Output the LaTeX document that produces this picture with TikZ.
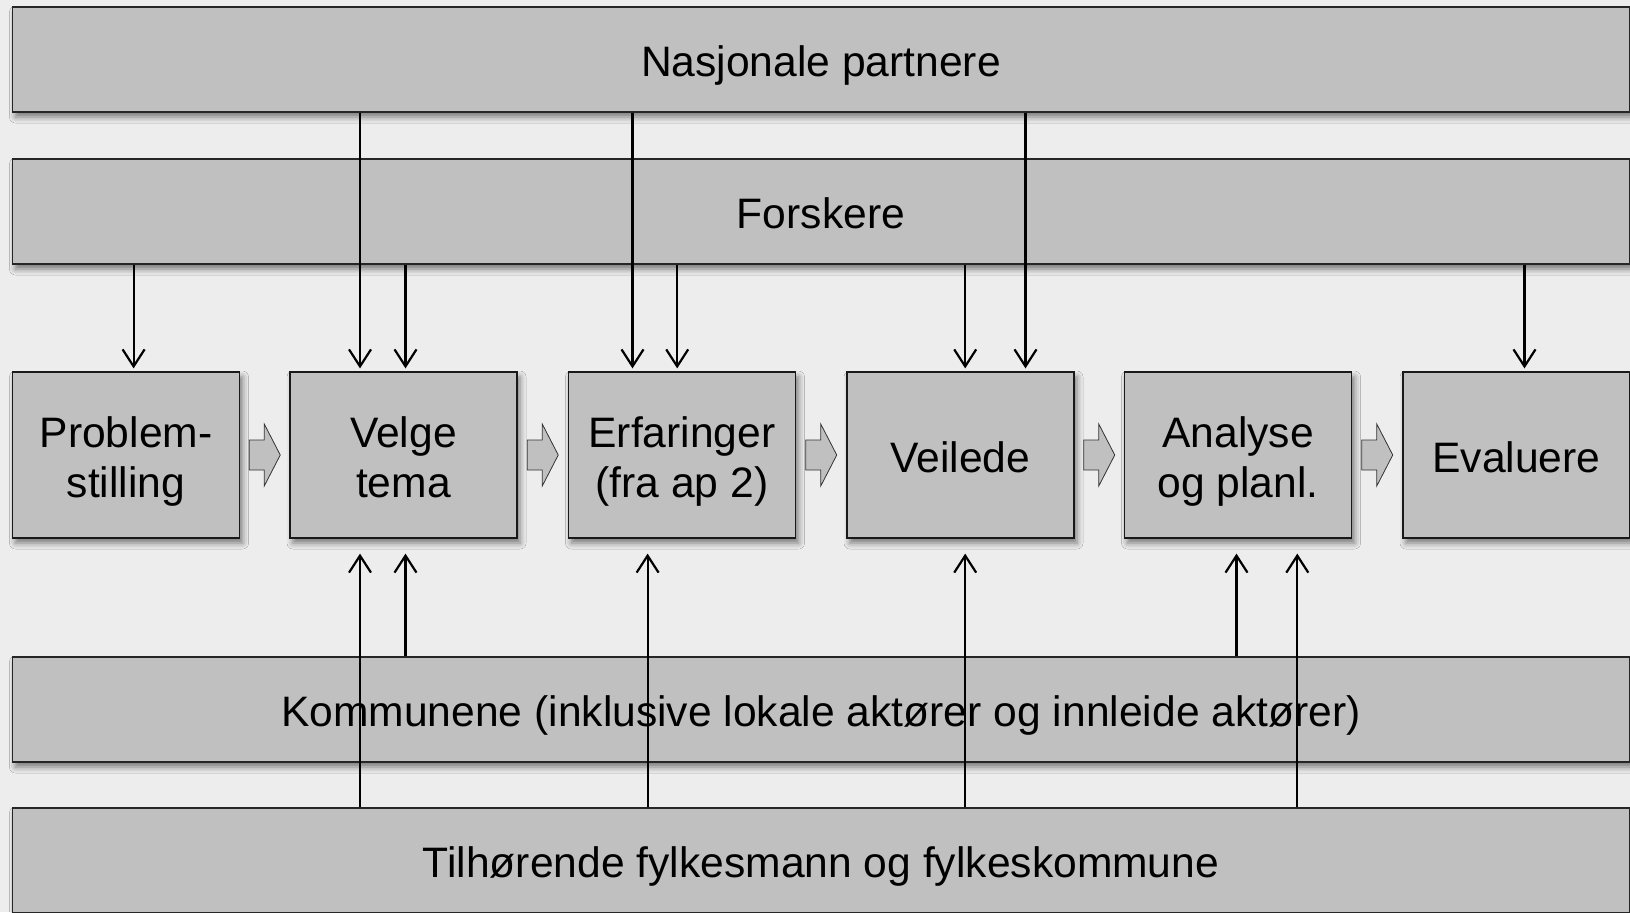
\documentclass[tikz,border=0pt]{standalone}
\usepackage{fontspec}
\setmainfont{Liberation Sans}
\usetikzlibrary{arrows.meta,shadows.blur,calc}
\definecolor{bgcol}{HTML}{EDEDED}
\definecolor{boxfill}{HTML}{C0C0C0}
\tikzset{
  shad/.style={blur shadow={shadow xshift=1.5pt, shadow yshift=-2.5pt, shadow blur radius=3pt, shadow opacity=50}},
  bar/.style={draw=black!85, line width=0.6pt, fill=boxfill, minimum width=808.5pt, minimum height=52.5pt, inner sep=0pt, font=\fontsize{21.3}{25}\selectfont, text height=20pt, text depth=3pt, shad},
  stepbox/.style={draw=black!90, line width=0.6pt, fill=boxfill, minimum width=113.5pt, minimum height=83pt, inner sep=0pt, align=center, font=\fontsize{21.3}{25}\selectfont, text height=20pt, text depth=3pt, shad},
  twoline/.style={text height=45pt, text depth=3pt},
  conn/.style={line width=1.1pt, -{Straight Barb[length=8.5pt,width=11pt,line width=1.1pt]}},
  barrow/.pic={\draw[draw=black!80, line width=0.4pt, fill=boxfill] (-15.5,-15) -- (-0.5,-15) -- (-0.5,-31) -- (15.5,0) -- (-0.5,31) -- (-0.5,15) -- (-15.5,15) -- cycle;}
}
\begin{document}
\begin{tikzpicture}[x=0.5pt,y=-0.5pt]
\fill[bgcol] (0,0) rectangle (1630,912);
\useasboundingbox (0,0) rectangle (1630,912);
% horizontal bars
\node[bar] (nas) at (821,59.5) {Nasjonale partnere};
\node[bar] (forsk) at (821,211.5) {Forskere};
\node[bar] (komm) at (821,709.5) {Kommunene (inklusive lokale aktører og innleide aktører)};
\node[bar] (tilh) at (821,860.5) {Tilhørende fylkesmann og fylkeskommune};
% process boxes
\node[stepbox,twoline] (prob) at (126,455) {Problem-\\stilling};
\node[stepbox,twoline] (velge) at (403.5,455) {Velge\\tema};
\node[stepbox,twoline] (erf) at (682,455) {Erfaringer\\(fra ap 2)};
\node[stepbox] (veil) at (960.5,455) {Veilede};
\node[stepbox,twoline] (anal) at (1238,455) {Analyse\\og planl.};
\node[stepbox] (eval) at (1516.5,455) {Evaluere};
% block arrows
\pic at ($(prob.east)!0.5!(velge.west)$) {barrow};
\pic at ($(velge.east)!0.5!(erf.west)$) {barrow};
\pic at ($(erf.east)!0.5!(veil.west)$) {barrow};
\pic at ($(veil.east)!0.5!(anal.west)$) {barrow};
\pic at ($(anal.east)!0.5!(eval.west)$) {barrow};
% from Nasjonale partnere
\draw[conn] ([xshift=-21.75pt]velge.north |- nas.south) -- ([xshift=-21.75pt,yshift=1.5pt]velge.north);
\draw[conn] ([xshift=-24.75pt]erf.north |- nas.south) -- ([xshift=-24.75pt,yshift=1.5pt]erf.north);
\draw[conn] ([xshift=32.5pt]veil.north |- nas.south) -- ([xshift=32.5pt,yshift=1.5pt]veil.north);
% from Forskere
\draw[conn] ([xshift=3.8pt]prob.north |- forsk.south) -- ([xshift=3.8pt,yshift=1.5pt]prob.north);
\draw[conn] ([xshift=1pt]velge.north |- forsk.south) -- ([xshift=1pt,yshift=1.5pt]velge.north);
\draw[conn] ([xshift=-2.4pt]erf.north |- forsk.south) -- ([xshift=-2.4pt,yshift=1.5pt]erf.north);
\draw[conn] ([xshift=2.35pt]veil.north |- forsk.south) -- ([xshift=2.35pt,yshift=1.5pt]veil.north);
\draw[conn] ([xshift=4pt]eval.north |- forsk.south) -- ([xshift=4pt,yshift=1.5pt]eval.north);
% from Kommunene
\draw[conn] ([xshift=1pt]velge.south |- komm.north) -- ([xshift=1pt,yshift=-7.5pt]velge.south);
\draw[conn] ([xshift=-0.75pt]anal.south |- komm.north) -- ([xshift=-0.75pt,yshift=-7.5pt]anal.south);
% from Tilhorende
\draw[conn] ([xshift=-21.75pt]velge.south |- tilh.north) -- ([xshift=-21.75pt,yshift=-7.5pt]velge.south);
\draw[conn] ([xshift=-17.2pt]erf.south |- tilh.north) -- ([xshift=-17.2pt,yshift=-7.5pt]erf.south);
\draw[conn] ([xshift=2.35pt]veil.south |- tilh.north) -- ([xshift=2.35pt,yshift=-7.5pt]veil.south);
\draw[conn] ([xshift=29.65pt]anal.south |- tilh.north) -- ([xshift=29.65pt,yshift=-7.5pt]anal.south);
\end{tikzpicture}
\end{document}
